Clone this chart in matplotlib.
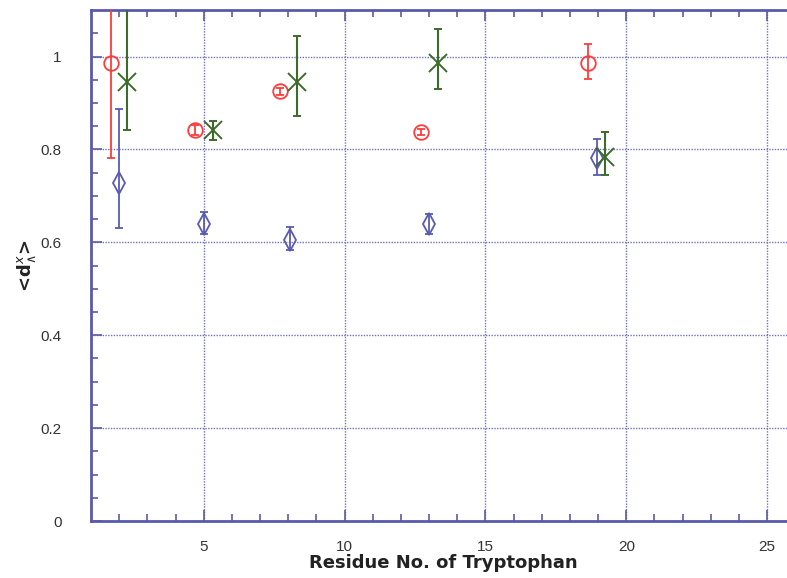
import matplotlib
matplotlib.use('Agg')
import matplotlib.pyplot as plt
import numpy as np

# 数据
x_red = [1.7, 4.7, 7.7, 12.7, 18.65]
y_red = [0.986, 0.842, 0.925, 0.837, 0.987]
lo_red = [0.205, 0.010, 0.008, 0.007, 0.035]
hi_red = [0.205, 0.010, 0.008, 0.007, 0.040]

x_blue = [2.0, 5.0, 8.05, 13.0, 18.95]
y_blue = [0.728, 0.639, 0.606, 0.639, 0.782]
lo_blue = [0.098, 0.022, 0.023, 0.021, 0.037]
hi_blue = [0.159, 0.026, 0.026, 0.022, 0.041]

x_green = [2.27, 5.34, 8.31, 13.3, 19.25]
y_green = [0.946, 0.842, 0.946, 0.986, 0.784]
lo_green = [0.104, 0.022, 0.074, 0.056, 0.039]
hi_green = [0.200, 0.020, 0.099, 0.074, 0.053]

COLOR_FRAME = '#5a5aaa'
COLOR_GRID = '#7070c0'
COLOR_RED = '#ff3b3b'
COLOR_GREEN = '#3d6b2a'
COLOR_BLUE = '#5a5ab4'

plt.rcParams['font.family'] = ['Liberation Sans', 'DejaVu Sans']

fig = plt.figure(figsize=(7.87, 5.78), dpi=100)
ax = fig.add_axes([0.1156, 0.0986, 0.895, 0.884])

ax.errorbar(x_red, y_red, yerr=[lo_red, hi_red], fmt='o', color=COLOR_RED,
            markerfacecolor='none', markeredgecolor=COLOR_RED, markersize=10.5,
            markeredgewidth=1.3, elinewidth=1.3, capsize=3, capthick=1.3, zorder=3)
ax.errorbar(x_blue, y_blue, yerr=[lo_blue, hi_blue], fmt='d', color=COLOR_BLUE,
            markerfacecolor='none', markeredgecolor=COLOR_BLUE, markersize=11,
            markeredgewidth=1.3, elinewidth=1.3, capsize=3, capthick=1.3, zorder=3)
ax.errorbar(x_green, y_green, yerr=[lo_green, hi_green], fmt='x', color=COLOR_GREEN,
            markersize=13, markeredgewidth=1.4, elinewidth=1.5, capsize=3,
            capthick=1.5, zorder=3)

ax.set_xlim(1, 26)
ax.set_ylim(0, 1.1)
ax.set_xticks([5, 10, 15, 20, 25])
ax.set_xticks(np.arange(2, 26, 1), minor=True)
ax.set_yticks([0, 0.2, 0.4, 0.6, 0.8, 1.0])
ax.set_yticklabels(['0', '0.2', '0.4', '0.6', '0.8', '1'])
ax.set_yticks(np.arange(0.05, 1.1, 0.05), minor=True)

ax.tick_params(which='both', direction='in', top=True, right=False,
               color=COLOR_FRAME, labelsize=11, labelcolor='#333333')
ax.tick_params(axis='y', pad=21)
ax.tick_params(axis='x', pad=14)
ax.tick_params(which='major', length=8, width=1.2)
ax.tick_params(which='minor', length=5, width=1.2)

ax.grid(True, which='major', linestyle=(0, (1, 1)), color=COLOR_GRID, linewidth=1.0)
ax.set_axisbelow(True)

for sp in ax.spines.values():
    sp.set_color(COLOR_FRAME)
    sp.set_linewidth(2)

ax.set_xlabel('Residue No. of Tryptophan', fontsize=13, fontweight='bold',
              labelpad=0, color='#222222', family='DejaVu Sans')
ax.set_ylabel(r'<d$^{x}_{\wedge}$>', fontsize=13, fontweight='bold', labelpad=2,
              color='#222222', family='DejaVu Sans')

plt.savefig('out.png', dpi=100)
